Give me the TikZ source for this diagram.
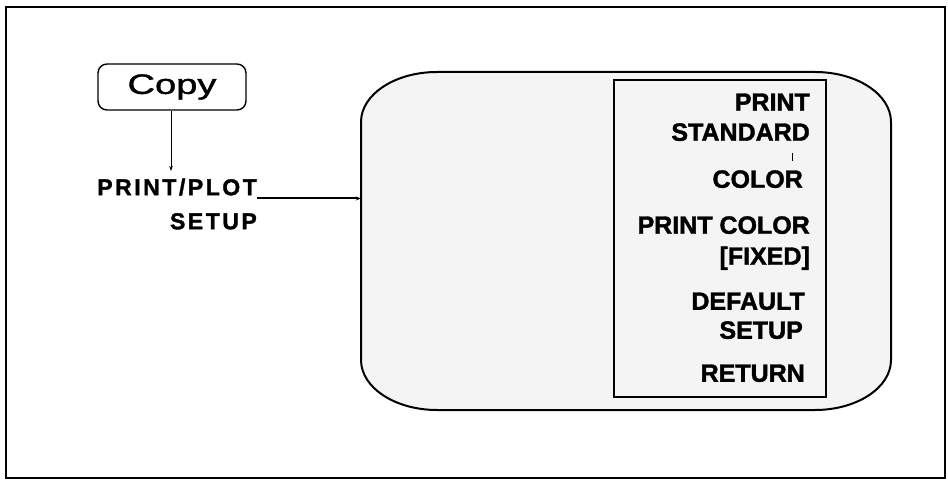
\documentclass[tikz,border=0pt]{standalone}
\usepackage{fontspec}
\setmainfont{Liberation Sans}
\newfontfamily\spacedfont[LetterSpace=11,BoldFeatures={FakeBold=1.5}]{Liberation Sans}
\newfontfamily\heavyfont[BoldFeatures={FakeBold=1.5}]{Liberation Sans}
\newfontfamily\copyfont[FakeBold=1.2]{Liberation Sans}
\usetikzlibrary{arrows.meta}
\definecolor{stipple}{gray}{0.955}
\tikzset{
  menutext/.style={anchor=east, inner sep=0pt, text height=17.5pt, text depth=0pt,
    font=\fontsize{25}{25}\heavyfont\bfseries},
  lefttext/.style={inner sep=0pt, text height=16.5pt, text depth=0pt,
    font=\fontsize{23}{23}\spacedfont\bfseries},
  conn/.style={line width=2pt, -{Stealth[length=5pt,width=4pt]}},
}
\begin{document}
\begin{tikzpicture}[x=1pt,y=-1pt]
\useasboundingbox (0,0) rectangle (948,481);
% outer frame
\draw[line width=2pt] (6,7) rectangle (945,478);
% Copy key
\node[draw, line width=1.4pt, rounded corners=9pt, minimum width=148pt, minimum height=46pt,
  inner sep=0pt, font=\fontsize{28}{28}\copyfont] (copy) at (172,87) {\scalebox{1.36}[1]{Copy}};
% PRINT/PLOT SETUP
\node[lefttext, anchor=east] (pp) at (257,187) {PRINT/PLOT};
\node[lefttext, anchor=east] (ppsetup) at (257,221) {SETUP};
\draw[line width=1pt, -{Stealth[length=5pt,width=3.5pt]}] (copy.south -| 171,0) -- (171,171);
% panel
\node[minimum width=530pt, minimum height=338pt, inner sep=0pt] (panel) at (626,241) {};
\draw[line width=2pt, fill=stipple]
  (437,72) -- (815,72) .. controls (857,72) and (891,94.4) .. (891,122)
  -- (891,360) .. controls (891,387.6) and (857,410) .. (815,410)
  -- (437,410) .. controls (395,410) and (361,387.6) .. (361,360)
  -- (361,122) .. controls (361,94.4) and (395,72) .. (437,72) -- cycle;
\draw[conn] (pp.south east) ++(0,3) coordinate (ppend) -- (ppend -| panel.west);
% menu box
\node[draw, line width=1.6pt, minimum width=212pt, minimum height=317pt, inner sep=0pt] (menu) at (720,238.5) {};
\node[menutext] (m1) at (810,102) {PRINT};
\node[menutext] (m2) at (810,132) {STANDARD};
\draw[line width=1pt] (792,153) -- (792,161);
\node[menutext] (m3) at (803,179) {COLOR};
\node[menutext] (m4) at (810,225) {PRINT COLOR};
\node[menutext] (m5) at (810,256) {[FIXED]};
\node[menutext] (m6) at (805,301) {DEFAULT};
\node[menutext] (m7) at (803,330) {SETUP};
\node[menutext] (m8) at (805,373) {RETURN};
\end{tikzpicture}
\end{document}
